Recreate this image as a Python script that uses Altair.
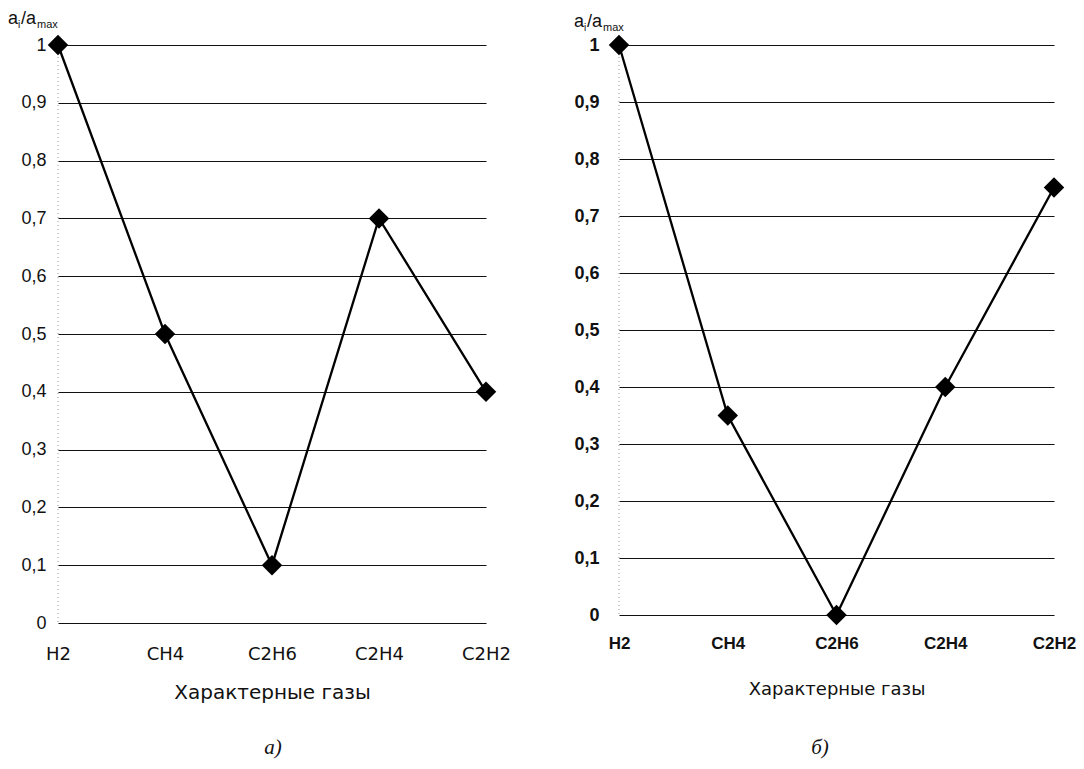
import altair as alt
import pandas as pd

gases = ["H2", "CH4", "C2H6", "C2H4", "C2H2"]
values_a = [1.0, 0.5, 0.1, 0.7, 0.4]
values_b = [1.0, 0.35, 0.0, 0.4, 0.75]
y_ticks = [0, 0.1, 0.2, 0.3, 0.4, 0.5, 0.6, 0.7, 0.8, 0.9, 1.0]
x_title = "Характерные газы"
captions = ["а)", "б)"]

SANS = "Liberation Sans"
WIDE = "DejaVu Sans"
SERIF = "Liberation Serif"


def txt(text, x, y, size, font=SANS, style="normal", align="left"):
    return alt.Chart(alt.Data(values=[{"k": 1}])).mark_text(
        text=text, font=font, fontSize=size, fontStyle=style, align=align,
        baseline="alphabetic", color="#111"
    ).encode(x=alt.value(x), y=alt.value(y))


def panel(values, w, h, xlab_font, xlab_size, xlab_weight, ylab_font, ylab_size,
          ylab_weight, lab_pad_y, lab_pad_x, title_size, title_pad_x,
          title_pos, caption, caption_x):
    df = pd.DataFrame({"gas": gases, "val": values})
    base = alt.Chart(df)
    x = alt.X("gas:N", sort=gases,
              scale=alt.Scale(type="point", padding=0),
              axis=alt.Axis(title=x_title, labelAngle=0, ticks=False, domain=False,
                            labelFont=xlab_font, labelFontSize=xlab_size,
                            labelFontWeight=xlab_weight, labelColor="#111",
                            labelPadding=lab_pad_x, titlePadding=title_pad_x,
                            titleFont=WIDE, titleFontSize=title_size,
                            titleFontWeight="normal", titleColor="#111"))
    y = alt.Y("val:Q", scale=alt.Scale(domain=[0, 1]),
              axis=alt.Axis(values=y_ticks, title=None, grid=True, gridColor="#111",
                            gridWidth=1.1, ticks=False, domain=False,
                            labelFont=ylab_font, labelFontSize=ylab_size,
                            labelFontWeight=ylab_weight, labelColor="#111",
                            labelPadding=lab_pad_y,
                            labelExpr="replace(format(datum.value, '.1~f'), '.', ',')"))
    line = base.mark_line(color="#000", strokeWidth=2.3).encode(x=x, y=y)
    pts = base.mark_point(shape="diamond", filled=True, size=420, color="#000",
                          opacity=1).encode(x=x, y=y)
    left_rule = alt.Chart(alt.Data(values=[{"k": 1}])).mark_rule(
        color="#999", strokeDash=[1, 3], strokeWidth=1
    ).encode(x=alt.value(0), y=alt.value(0), y2=alt.value(h))
    tx, ty = title_pos
    t1 = txt("a", tx, ty, 18)
    t2 = txt("i", tx + 10, ty + 4, 10)
    t3 = txt("/a", tx + 13, ty, 18)
    t4 = txt("max", tx + 29, ty + 4, 11)
    cap = txt(caption, caption_x, 709, 21, font=SERIF, style="italic", align="center")
    return alt.layer(left_rule, line, pts, t1, t2, t3, t4, cap).properties(width=w, height=h)


left = panel(values_a, 428, 578, WIDE, 18, "normal", SANS, 18, "normal",
             12, 22, 20, 19, (-50, -21), captions[0], 215)
right = panel(values_b, 435, 570, SANS, 17, "bold", SANS, 18, "bold",
              20, 20, 18, 29, (-45, -18), captions[1], 201)

chart = alt.hconcat(left, right, spacing=133, bounds="flush").properties(
    padding={"left": 0, "top": 2, "right": 0, "bottom": 5}
).configure_view(stroke=None)

chart.save("out.html", embed_options={"renderer": "svg", "actions": False})
